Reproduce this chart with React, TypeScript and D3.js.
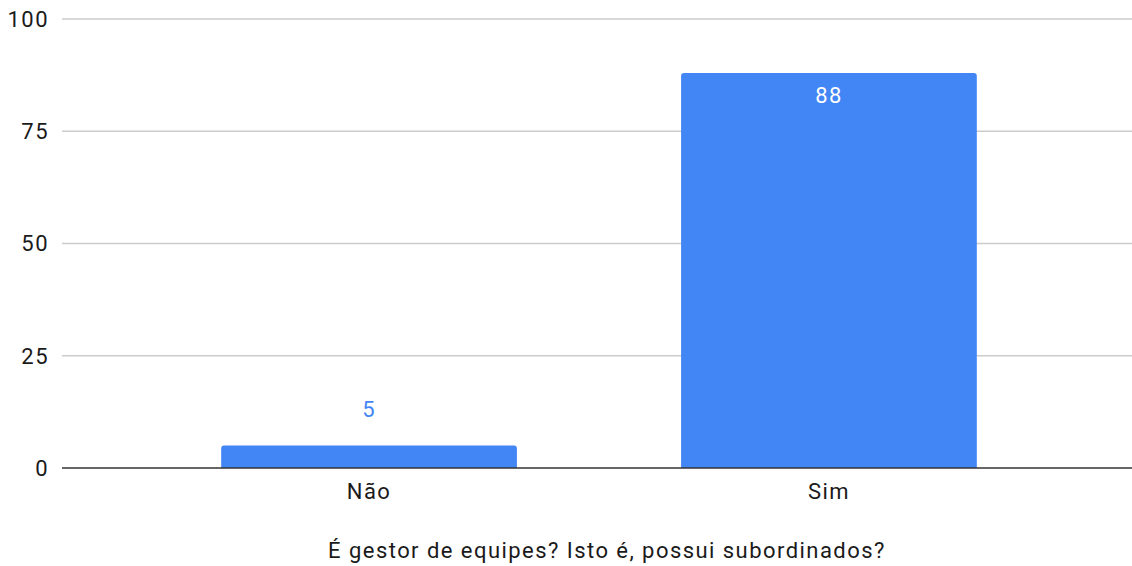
import React from "react";
import * as d3 from "d3";

const categories = ["Não", "Sim"];
const values = [5, 88];
const yTicks = [0, 25, 50, 75, 100];
const xTitle = "É gestor de equipes? Isto é, possui subordinados?";

const W = 1132;
const H = 566;
const left = 62;
const right = 1132;
const top = 19;
const bottom = 468;
const font = "Roboto, Arial, sans-serif";
const fs = 22;
const ls = 1.45;

export default function App() {
  const y = d3.scaleLinear().domain([0, 100]).range([bottom, top]);
  const x = d3.scaleBand<string>().domain(categories).range([57, 1141]).padding(0.357);
  const r = 3;
  const barPath = (x0: number, x1: number, y0: number, y1: number) => {
    const p = d3.path();
    p.moveTo(x0, y1);
    p.lineTo(x0, y0 + r);
    p.arcTo(x0, y0, x0 + r, y0, r);
    p.lineTo(x1 - r, y0);
    p.arcTo(x1, y0, x1, y0 + r, r);
    p.lineTo(x1, y1);
    p.closePath();
    return p.toString();
  };
  return (
    <svg width={W} height={H} style={{ position: "absolute", left: 0, top: 0 }}>
      <rect width={W} height={H} fill="#fff" />
      {yTicks.map((t) => (
        <g key={t}>
          {t !== 0 && <line x1={left} x2={right} y1={y(t)} y2={y(t)} stroke="#cccccc" strokeWidth={1.5} />}
          <text x={49} y={y(t)} dy="0.36em" textAnchor="end" fontFamily={font} fontSize={fs} letterSpacing={ls} fill="#1a1a1a">
            {t}
          </text>
        </g>
      ))}
      {categories.map((c, i) => {
        const x0 = x(c)!;
        const x1 = x0 + x.bandwidth();
        const v = values[i];
        const yt = y(v);
        const inside = bottom - yt > 40;
        return (
          <g key={c}>
            <path d={barPath(x0, x1, yt, bottom)} fill="#4285f4" />
            <text
              x={(x0 + x1) / 2}
              y={inside ? yt + 22 : yt - 36}
              dy="0.36em"
              textAnchor="middle"
              fontFamily={font}
              fontSize={fs}
              letterSpacing={ls}
              fill={inside ? "#ffffff" : "#4285f4"}
            >
              {v}
            </text>
            <text x={(x0 + x1) / 2} y={491} dy="0.36em" textAnchor="middle" fontFamily={font} fontSize={fs} letterSpacing={ls} fill="#1a1a1a">
              {c}
            </text>
          </g>
        );
      })}
      <line x1={left} x2={right} y1={bottom} y2={bottom} stroke="#333" strokeWidth={1.5} />
      <text x={607} y={550} dy="0.36em" textAnchor="middle" fontFamily={font} fontSize={fs} letterSpacing={ls} fill="#1a1a1a">
        {xTitle}
      </text>
    </svg>
  );
}
